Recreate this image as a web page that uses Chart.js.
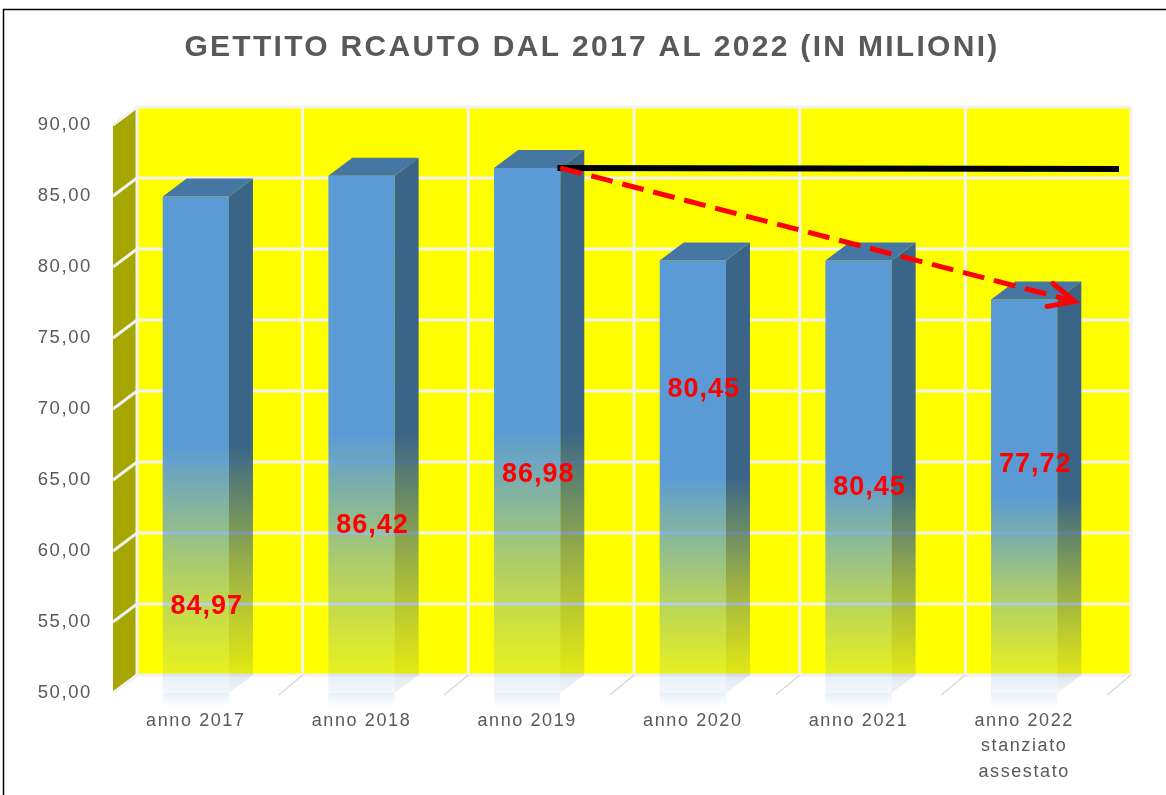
<!DOCTYPE html>
<html>
<head>
<meta charset="utf-8">
<script src="https://cdn.jsdelivr.net/npm/chart.js@4.4.1/dist/chart.umd.min.js"></script>
<style>
  html, body { margin: 0; padding: 0; background: #fff; }
  #wrap { position: relative; width: 1166px; height: 795px; }
</style>
</head>
<body>
<div id="wrap"><canvas id="rcautoChart"></canvas></div>
<script>
// dati
const chartTitle = 'GETTITO RCAUTO DAL 2017 AL 2022 (IN MILIONI)';
const categories = ['anno 2017', 'anno 2018', 'anno 2019', 'anno 2020', 'anno 2021', ['anno 2022', 'stanziato', 'assestato']];
const gettito = [84.97, 86.42, 86.98, 80.45, 80.45, 77.72];
const valueLabels = ['84,97', '86,42', '86,98', '80,45', '80,45', '77,72'];
// livelli (in milioni) dove stanno le etichette rosse dentro le barre
const labelLevels = [56.1, 61.8, 65.4, 71.4, 64.5, 66.1];
const yMin = 50, yMax = 90, yStep = 5;

const DX = 24, DY = -18;   // profondita' 3D
const TEXT = '#595959';
const FONT = "'Liberation Sans', Arial, sans-serif";

function fadeGradient(ctx, top, bottom, r, g, b) {
  const gr = ctx.createLinearGradient(0, top, 0, bottom);
  gr.addColorStop(0, `rgba(${r},${g},${b},1)`);
  gr.addColorStop(0.5, `rgba(${r},${g},${b},1)`);
  gr.addColorStop(0.75, `rgba(${r},${g},${b},0.5)`);
  gr.addColorStop(1, `rgba(${r},${g},${b},0.08)`);
  return gr;
}

function frontFill(c) {
  const chart = c.chart;
  const a = chart.chartArea;
  if (!a || c.type !== 'data') return '#5b9bd5';
  const top = chart.scales.y.getPixelForValue(c.raw);
  return fadeGradient(chart.ctx, top, a.bottom, 91, 155, 213);
}

function poly(ctx, pts) {
  ctx.beginPath();
  ctx.moveTo(pts[0][0], pts[0][1]);
  for (let i = 1; i < pts.length; i++) ctx.lineTo(pts[i][0], pts[i][1]);
  ctx.closePath();
  ctx.fill();
}

const wallsPlugin = {
  id: 'walls',
  beforeDraw(chart) {
    const ctx = chart.ctx;
    ctx.save();
    ctx.strokeStyle = '#000';
    ctx.lineWidth = 1.5;
    ctx.strokeRect(3.5, 9.5, chart.width + 20, chart.height + 20);
    // titolo
    ctx.fillStyle = TEXT;
    ctx.font = `bold 30px ${FONT}`;
    ctx.letterSpacing = '2.3px';
    ctx.textAlign = 'center';
    ctx.textBaseline = 'middle';
    ctx.fillText(chartTitle, 592, 48);
    ctx.restore();
    ctx.letterSpacing = '1.6px';
  },
  beforeDatasetsDraw(chart) {
    const { ctx, chartArea: a, scales: { y } } = chart;
    ctx.save();
    // parete di fondo
    ctx.fillStyle = '#ffff00';
    ctx.fillRect(a.left + DX, a.top + DY, a.right - a.left, a.bottom - a.top);
    // parete laterale
    ctx.fillStyle = '#a6a600';
    poly(ctx, [[a.left, a.top], [a.left + DX, a.top + DY], [a.left + DX, a.bottom + DY], [a.left, a.bottom]]);

    ctx.strokeStyle = '#f2f2f2';
    ctx.lineWidth = 3;
    y.ticks.forEach(t => {
      const py = y.getPixelForValue(t.value);
      ctx.beginPath();
      ctx.moveTo(a.left, py);
      ctx.lineTo(a.left + DX, py + DY);
      ctx.lineTo(a.right + DX, py + DY);
      ctx.stroke();
    });
    const step = (a.right - a.left) / categories.length;
    for (let i = 0; i <= categories.length; i++) {
      const bx = a.left + i * step;
      ctx.strokeStyle = '#f2f2f2';
      ctx.lineWidth = 3;
      ctx.beginPath();
      ctx.moveTo(bx + DX, a.top + DY);
      ctx.lineTo(bx + DX, a.bottom + DY);
      ctx.stroke();
      if (i > 0) {
        ctx.strokeStyle = '#d9d9d9';
        ctx.lineWidth = 1.5;
        ctx.beginPath();
        ctx.moveTo(bx, a.bottom + 2);
        ctx.lineTo(bx + DX, a.bottom + DY);
        ctx.stroke();
      }
    }
    ctx.restore();
  },
  afterDatasetsDraw(chart) {
    const { ctx, chartArea: a, scales: { y } } = chart;
    const meta = chart.getDatasetMeta(0);
    ctx.save();
    meta.data.forEach(bar => {
      const { x, y: top, width } = bar.getProps(['x', 'y', 'width'], true);
      const base = a.bottom;   // la base a 0 cade fuori dall'area: taglio al minimo dell'asse
      const l = x - width / 2, r = x + width / 2;
      // riflesso sul pavimento
      const rf = ctx.createLinearGradient(0, base, 0, base + 14);
      rf.addColorStop(0, 'rgba(91,155,213,0.14)');
      rf.addColorStop(1, 'rgba(91,155,213,0)');
      ctx.fillStyle = rf;
      ctx.fillRect(l, base, width, 14);
      // lato
      ctx.fillStyle = fadeGradient(ctx, top, base, 58, 101, 135);
      poly(ctx, [[r, top], [r + DX, top + DY], [r + DX, base + DY], [r, base]]);
      // tetto
      ctx.fillStyle = '#4677a3';
      poly(ctx, [[l, top], [l + DX, top + DY], [r + DX, top + DY], [r, top]]);
    });

    // linea nera al livello 2019
    const b2 = meta.data[2], b5 = meta.data[5];
    const y0 = y.getPixelForValue(gettito[2]);
    const y1 = y.getPixelForValue(gettito[5]);
    ctx.strokeStyle = '#000';
    ctx.lineWidth = 6;
    ctx.beginPath();
    ctx.moveTo(b2.x + b2.width / 2 - 3, y0);
    ctx.lineTo(a.right + DX / 2, y0 + 1);
    ctx.stroke();

    // freccia rossa tratteggiata
    const sx = b2.x + b2.width / 2, sy = y0;
    const tx = b5.x + b5.width / 2 + DX * 0.72, ty = y1 + 2;
    const ang = Math.atan2(ty - sy, tx - sx);
    ctx.strokeStyle = '#ff0000';
    ctx.lineWidth = 5;
    ctx.setLineDash([22, 10]);
    ctx.beginPath();
    ctx.moveTo(sx, sy);
    ctx.lineTo(tx - 6 * Math.cos(ang), ty - 6 * Math.sin(ang));
    ctx.stroke();
    ctx.setLineDash([]);
    ctx.lineCap = 'round';
    ctx.beginPath();
    ctx.moveTo(tx - 28 * Math.cos(ang - 0.44), ty - 28 * Math.sin(ang - 0.44));
    ctx.lineTo(tx, ty);
    ctx.lineTo(tx - 28 * Math.cos(ang + 0.44), ty - 28 * Math.sin(ang + 0.44));
    ctx.stroke();

    // etichette rosse
    ctx.fillStyle = '#ff0000';
    ctx.font = `bold 27px ${FONT}`;
    ctx.letterSpacing = '1px';
    ctx.textAlign = 'center';
    ctx.textBaseline = 'middle';
    meta.data.forEach((bar, i) => {
      ctx.fillText(valueLabels[i], bar.x + 11, y.getPixelForValue(labelLevels[i]));
    });
    ctx.restore();
  }
};

new Chart(document.getElementById('rcautoChart'), {
  type: 'bar',
  data: {
    labels: categories,
    datasets: [{
      data: gettito,
      backgroundColor: frontFill,
      borderWidth: 0,
      barPercentage: 0.4,
      categoryPercentage: 1
    }]
  },
  options: {
    responsive: true,
    maintainAspectRatio: false,
    animation: false,
    layout: { padding: { left: 0, right: 59, top: 125, bottom: 0 } },
    plugins: {
      legend: { display: false },
      tooltip: { enabled: false },
      title: { display: false }
    },
    scales: {
      x: {
        grid: { display: false, drawTicks: false },
        border: { display: false },
        ticks: {
          color: TEXT,
          font: { family: FONT, size: 18, lineHeight: 1.42 },
          padding: 15,
          maxRotation: 0,
          autoSkip: false
        },
        afterFit: s => { s.height = 102; }
      },
      y: {
        min: yMin,
        max: yMax,
        grid: { display: false, drawTicks: false },
        border: { display: false },
        ticks: {
          stepSize: yStep,
          color: TEXT,
          font: { family: FONT, size: 18.5 },
          padding: 21,
          callback: v => v.toFixed(2).replace('.', ',')
        },
        afterFit: s => { s.width = 113; }
      }
    }
  },
  plugins: [wallsPlugin]
});
</script>
</body>
</html>
